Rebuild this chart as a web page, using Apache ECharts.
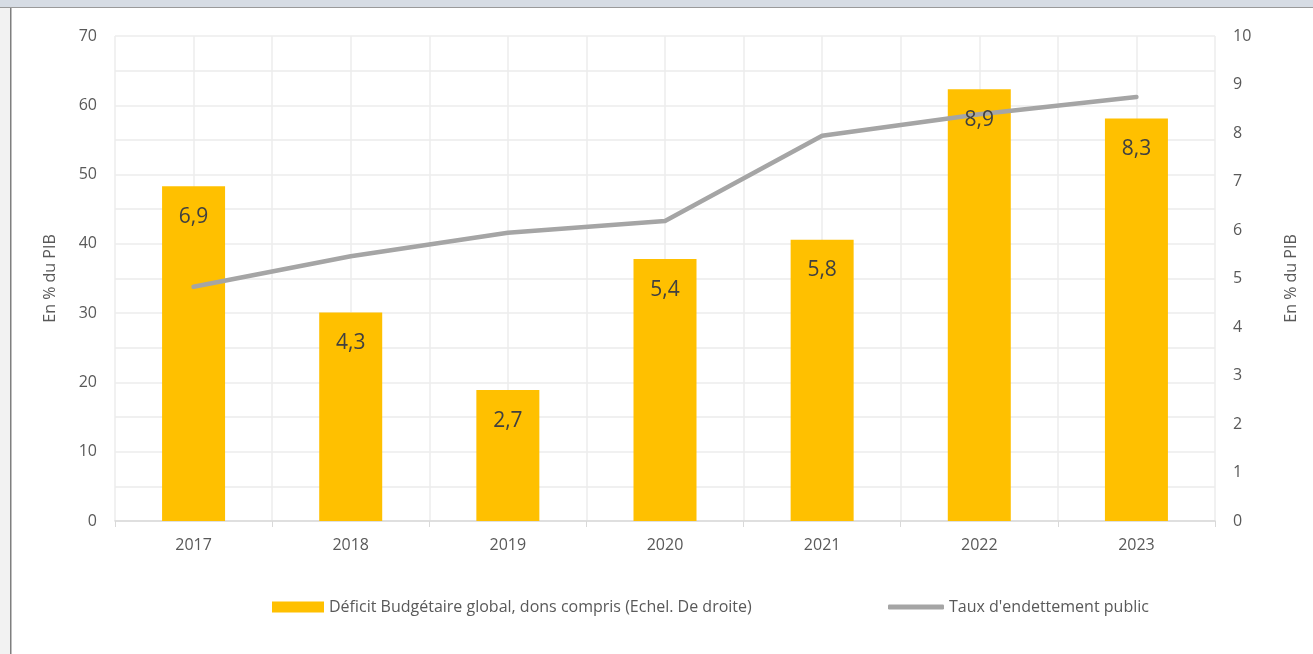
<!DOCTYPE html>
<html>
<head>
<meta charset="utf-8">
<script src="https://cdn.jsdelivr.net/npm/echarts@6/dist/echarts.min.js"></script>
<style>
html,body{margin:0;padding:0;background:#fff;}
#c{width:1313px;height:654px;}
</style>
</head>
<body>
<div id="c"></div>
<script>
var years = ['2017','2018','2019','2020','2021','2022','2023'];
var deficit = [6.9, 4.3, 2.7, 5.4, 5.8, 8.9, 8.3];
var debt = [33.8, 38.2, 41.6, 43.3, 55.6, 58.7, 61.2];
var barName = 'Déficit Budgétaire global, dons compris (Echel. De droite)';
var lineName = "Taux d'endettement public";
var axisName = 'En % du PIB';

var FONT = 'Open Sans';
var chart = echarts.init(document.getElementById('c'));
chart.setOption({
  animation: false,
  backgroundColor: '#ffffff',
  textStyle: {fontFamily: FONT},
  graphic: [
    {type: 'rect', left: 0, top: 0, shape: {width: 1313, height: 7}, style: {fill: '#d6dce4'}, silent: true},
    {type: 'rect', left: 0, top: 7, shape: {width: 1313, height: 1}, style: {fill: '#9a9a9a'}, silent: true},
    {type: 'rect', left: 0, top: 8, shape: {width: 10, height: 646}, style: {fill: '#f2f2f2'}, silent: true},
    {type: 'rect', left: 10, top: 8, shape: {width: 1.5, height: 646}, style: {fill: '#7f7f7f'}, silent: true}
  ],
  grid: {left: 115, right: 98, top: 36, bottom: 133, containLabel: false},
  legend: [
    {
      data: [{name: barName, icon: 'rect'}],
      left: 267, top: 594,
      itemWidth: 52, itemHeight: 11,
      textStyle: {color: '#595959', fontSize: 16, fontFamily: FONT}
    },
    {
      data: [{name: lineName, icon: 'roundRect'}],
      left: 883, top: 594,
      itemWidth: 56, itemHeight: 5,
      textStyle: {color: '#595959', fontSize: 16, fontFamily: FONT}
    }
  ],
  xAxis: [
    {
      type: 'category', data: years,
      axisLine: {lineStyle: {color: '#d9d9d9', width: 1.5}},
      axisTick: {show: true, length: 6, interval: 0, lineStyle: {color: '#d9d9d9'}},
      axisLabel: {color: '#595959', fontSize: 16, margin: 16},
      splitLine: {show: false}
    },
    {
      type: 'value', min: 0, max: 14, interval: 1, position: 'bottom',
      axisLine: {show: false}, axisTick: {show: false}, axisLabel: {show: false},
      splitLine: {show: true, lineStyle: {color: '#ececec', width: 1.5}}
    }
  ],
  yAxis: [
    {
      type: 'value', min: 0, max: 70, interval: 10,
      name: axisName, nameLocation: 'middle', nameGap: 57, nameRotate: 90,
      nameTextStyle: {color: '#595959', fontSize: 16},
      axisLine: {show: false}, axisTick: {show: false},
      axisLabel: {color: '#595959', fontSize: 16, margin: 18},
      splitLine: {show: true, lineStyle: {color: '#ececec', width: 1.5}},
      minorTick: {show: false, splitNumber: 2},
      minorSplitLine: {show: true, lineStyle: {color: '#ececec', width: 1.5}}
    },
    {
      type: 'value', min: 0, max: 10, interval: 1, position: 'right',
      name: axisName, nameLocation: 'middle', nameGap: 68, nameRotate: 90,
      nameTextStyle: {color: '#595959', fontSize: 16},
      axisLine: {show: false}, axisTick: {show: false},
      axisLabel: {color: '#595959', fontSize: 16, margin: 18},
      splitLine: {show: false}
    }
  ],
  series: [
    {
      name: barName, type: 'bar', xAxisIndex: 0, yAxisIndex: 1, data: deficit,
      barWidth: 63, itemStyle: {color: '#ffc000'}, z: 2
    },
    {
      name: lineName, type: 'line', xAxisIndex: 0, yAxisIndex: 0, data: debt,
      symbol: 'none', lineStyle: {color: '#a5a5a5', width: 4.5, cap: 'round', join: 'round'},
      itemStyle: {color: '#a5a5a5'}, z: 3
    },
    {
      name: 'labels', type: 'bar', xAxisIndex: 0, yAxisIndex: 1, data: deficit,
      barWidth: 63, barGap: '-100%', itemStyle: {color: 'rgba(0,0,0,0)'}, z: 5, silent: true,
      label: {
        show: true, position: 'insideTop', distance: 20,
        color: '#404040', fontSize: 21, fontFamily: FONT,
        formatter: function (p) { return String(p.value).replace('.', ','); }
      }
    }
  ]
});
</script>
</body>
</html>
